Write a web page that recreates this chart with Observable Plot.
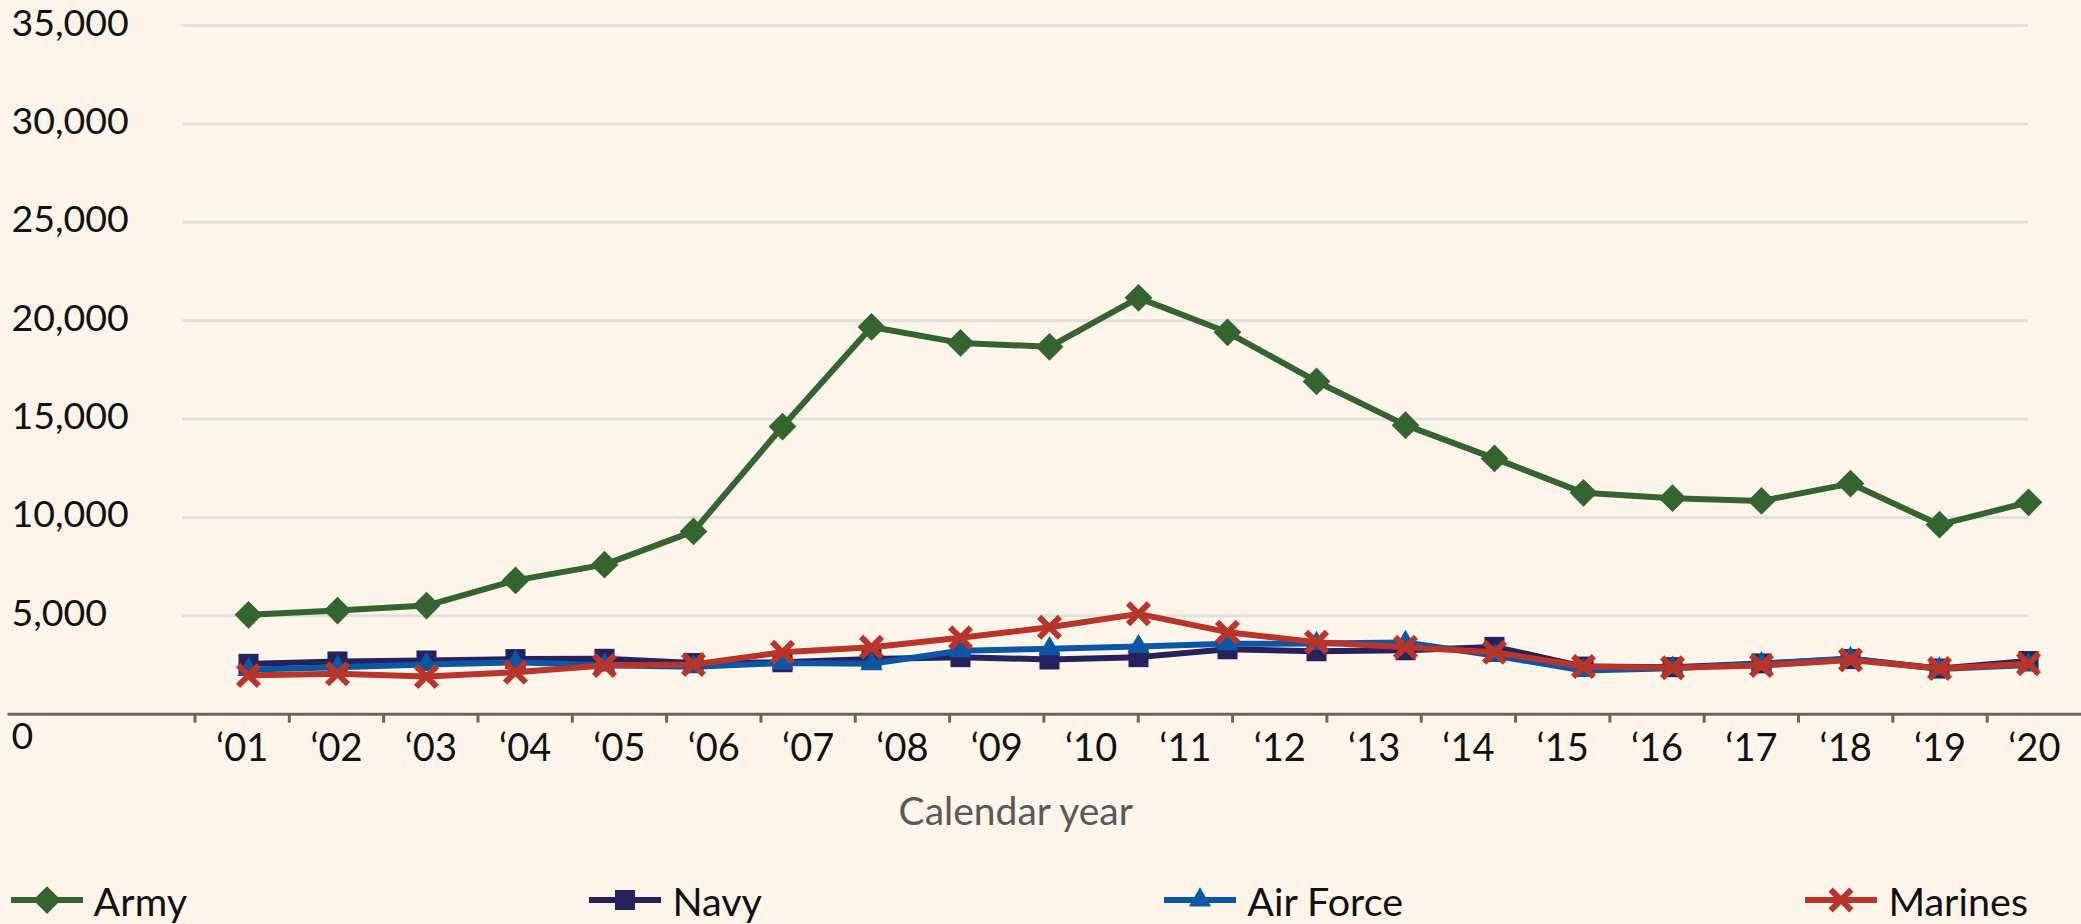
<!DOCTYPE html>
<html><head><meta charset="utf-8">
<script src="https://cdn.jsdelivr.net/npm/d3@7"></script>
<script src="https://cdn.jsdelivr.net/npm/@observablehq/plot@0.6"></script>
<style>
html,body{margin:0;padding:0;background:#fef5ea;}
body{width:2081px;height:924px;overflow:hidden;font-family:Lato,sans-serif;position:relative;}
#chart{position:absolute;left:0;top:0;width:2081px;height:840px;}
#chart svg{position:absolute;left:0;top:0;}
#legend{position:absolute;left:10.6px;width:2017.4px;top:878px;height:44px;display:flex;justify-content:space-between;align-items:center;}
.item{display:flex;align-items:center;font-size:39.5px;color:#111;font-family:Lato,sans-serif;}
.item svg{margin-right:11px;overflow:visible;}
</style></head><body>
<div id="chart"></div>
<div id="legend"></div>
<script>
// ---- data ----
const years = [2000,2001,2002,2003,2004,2005,2006,2007,2008,2009,2010,2011,2012,2013,2014,2015,2016,2017,2018,2019,2020];
const army     = [5050,5270,5520,6800,7600,9290,14620,19680,18870,18670,21160,19410,16910,14690,13000,11250,10980,10840,11720,9630,10770];
const navy     = [2560,2680,2730,2800,2815,2600,2640,2800,2900,2780,2900,3300,3200,3250,3420,2420,2390,2580,2800,2320,2700];
const airForce = [2260,2390,2520,2640,2490,2410,2600,2560,3220,3320,3440,3580,3590,3650,2980,2220,2340,2560,2830,2300,2500];
const marines  = [1970,2050,1920,2130,2470,2530,3150,3400,3880,4420,5100,4170,3660,3400,3150,2420,2360,2470,2750,2320,2560];
const seriesNames = ["Army","Navy","Air Force","Marines"];
const xLabels = ["\u201801","\u201802","\u201803","\u201804","\u201805","\u201806","\u201807","\u201808","\u201809","\u201810","\u201811","\u201812","\u201813","\u201814","\u201815","\u201816","\u201817","\u201818","\u201819","\u201820"];
const yTicks = [5000,10000,15000,20000,25000,30000,35000];
const xTitle = "Calendar year";

// ---- styles ----
const styles = {
  "Army":      {color:"#34652f", symbol:"diamond2", r:12.5, filled:true},
  "Navy":      {color:"#25225e", symbol:"square",   r:11.3, filled:true},
  "Air Force": {color:"#0a58a5", symbol:"triangle", r:8.2,  filled:true},
  "Marines":   {color:"#b9352a", symbol:"times",    r:9.5,  filled:false}
};
const values = {"Army":army, "Navy":navy, "Air Force":airForce, "Marines":marines};
const rows = seriesNames.flatMap(s => years.map((yr,i) => ({series:s, year:yr, value:values[s][i]})));

const W = 2081, H = 840, TOP = 25, ZERO = 713.7;
const common = {width:W, height:H, marginTop:TOP, marginBottom:H-ZERO,
  style:{background:"transparent", fontFamily:"Lato, sans-serif", overflow:"visible"}};

const seriesMarks = seriesNames.flatMap(s => {
  const st = styles[s];
  const data = rows.filter(d => d.series === s);
  const dot = st.filled
    ? Plot.dot(data, {x:"year", y:"value", symbol:st.symbol, r:st.r, fill:st.color, stroke:"none"})
    : Plot.dot(data, {x:"year", y:"value", symbol:st.symbol, r:st.r, stroke:st.color, strokeWidth:6, fill:"none"});
  return [
    Plot.line(data, {x:"year", y:"value", stroke:st.color, strokeWidth:6, strokeLinejoin:"round", strokeLinecap:"round"}),
    dot
  ];
});

const plot1 = Plot.plot({
  ...common,
  marginLeft:182, marginRight:53,
  x:{type:"point", domain:years, range:[240, 2036], padding:0, axis:null},
  y:{domain:[0,35000], axis:null},
  marks:[
    Plot.gridY({ticks:yTicks, stroke:"#e0e0e0", strokeOpacity:1, strokeWidth:3}),
    Plot.axisY({ticks:yTicks, tickSize:0, tickPadding:0, textAnchor:"start", dx:-171, dy:-2,
      fontSize:37.5, fill:"#111", tickFormat:d3.format(","), label:null}),
    Plot.axisY({ticks:[0], tickSize:0, tickPadding:0, textAnchor:"start", dx:-171, dy:23,
      fontSize:37.5, fill:"#111", tickFormat:d3.format(","), label:null}),
    ...seriesMarks
  ]
});

const tickIdx = xLabels.map((_, i) => i);
const plot2 = Plot.plot({
  ...common,
  marginLeft:7.5, marginRight:0,
  x:{type:"linear", domain:[0, xLabels.length], range:[194.5, 2081], axis:null},
  y:{domain:[0,35000], axis:null},
  marks:[
    Plot.ruleY([0], {stroke:"#666", strokeWidth:3}),
    Plot.axisX({ticks:tickIdx, tickSize:9, tickFormat:() => "", stroke:"#666", strokeWidth:3, label:null}),
    Plot.text(xLabels, {x:(d,i) => i + 0.5, y:() => 0, text:d => d, dy:35, lineAnchor:"middle",
      fontSize:38, fill:"#111"}),
    Plot.text([xTitle], {frameAnchor:"bottom", dx:-29, dy:98, lineAnchor:"middle", fontSize:39, fill:"#595959"})
  ]
});

const chart = document.getElementById("chart");
chart.appendChild(plot1);
chart.appendChild(plot2);

// ---- legend ----
const legend = document.getElementById("legend");
const symbolMap = {diamond2:d3.symbolDiamond2, square:d3.symbolSquare, triangle:d3.symbolTriangle, times:d3.symbolTimes};
for (const s of seriesNames) {
  const st = styles[s];
  const item = document.createElement("div");
  item.className = "item";
  const svg = d3.create("svg").attr("width", 72).attr("height", 40);
  svg.append("line").attr("x1", 0).attr("x2", 72).attr("y1", 20).attr("y2", 20)
    .attr("stroke", st.color).attr("stroke-width", 6);
  const path = d3.symbol(symbolMap[st.symbol], Math.PI * st.r * st.r)();
  const p = svg.append("path").attr("d", path).attr("transform", "translate(36,20)");
  if (st.filled) p.attr("fill", st.color);
  else p.attr("fill", "none").attr("stroke", st.color).attr("stroke-width", 6);
  item.appendChild(svg.node());
  const t = document.createElement("span");
  t.textContent = s;
  item.appendChild(t);
  legend.appendChild(item);
}
</script>
</body></html>
